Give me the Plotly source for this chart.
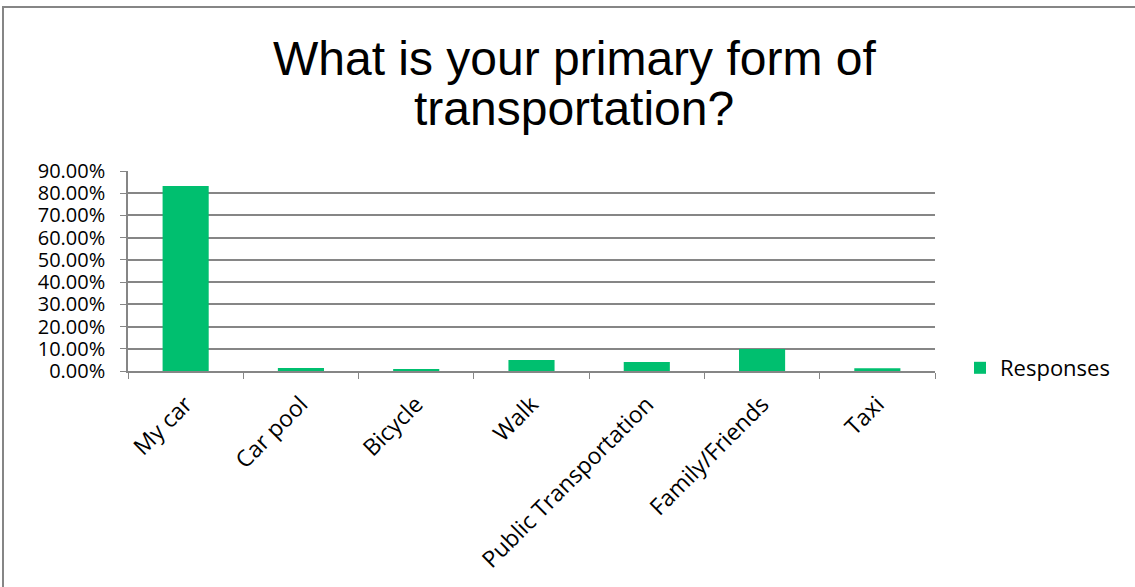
import plotly.graph_objects as go

categories = ["My car", "Car pool", "Bicycle", "Walk", "Public Transportation", "Family/Friends", "Taxi"]
responses = [0.832, 0.013, 0.007, 0.049, 0.040, 0.099, 0.012]
y_ticks = [0.0, 0.1, 0.2, 0.3, 0.4, 0.5, 0.6, 0.7, 0.8, 0.9]
series_name = "Responses"
title_lines = ["What is your primary form of", "transportation?"]

W, H = 1135, 587
ML, MR, MT, MB = 128, 200, 171, 216
pw = W - ML - MR
ph = H - MT - MB

fig = go.Figure()
fig.add_trace(go.Bar(
    x=categories, y=responses, name=series_name,
    marker=dict(color="#00BF6F", line=dict(width=0)),
    showlegend=True,
))

font_family = "'Open Sans', Lato, sans-serif"
title_family = "'Liberation Sans Narrow', 'Liberation Sans', Arial, sans-serif"

title_centers_px = [58, 108]
annotations = []
for line, cy in zip(title_lines, title_centers_px):
    annotations.append(dict(
        text=line, xref="paper", yref="paper",
        x=(574 - ML) / pw, xanchor="center",
        y=1 + (MT - cy) / ph, yanchor="middle",
        showarrow=False, font=dict(size=48, family=title_family, color="black"),
    ))

fig.update_layout(
    width=W, height=H,
    margin=dict(l=ML, r=MR, t=MT, b=MB, pad=0),
    paper_bgcolor="white", plot_bgcolor="white",
    font=dict(family=font_family, color="black", size=20),
    bargap=0.6,
    annotations=annotations,
    legend=dict(x=(960 - ML) / pw, xanchor="left", y=(371 - 368) / ph, yanchor="middle",
                font=dict(size=22), bgcolor="rgba(0,0,0,0)", itemwidth=30),
    xaxis=dict(showgrid=False, showline=True, linecolor="#868686", linewidth=1.5,
               ticks="outside", tickson="boundaries", ticklen=6, tickcolor="#868686",
               tickangle=-45, tickfont=dict(size=23), ticklabelstandoff=9, fixedrange=True),
    yaxis=dict(range=[0, 0.9], tickvals=y_ticks, tickformat=".2%",
               showgrid=True, gridcolor="#868686", gridwidth=1.5,
               showline=True, linecolor="#868686", linewidth=1.5,
               ticks="outside", ticklen=6, tickcolor="#868686", ticklabelstandoff=11,
               tickfont=dict(size=20), zeroline=False, fixedrange=True),
    shapes=[dict(type="rect", xref="paper", yref="paper",
                 x0=(3 - ML) / pw, x1=(W + 20 - ML) / pw,
                 y0=-(MB + 30) / ph, y1=1 + (MT - 7) / ph,
                 line=dict(color="#868686", width=2), layer="below")],
)

fig.write_html("out.html", config={"displayModeBar": False},
               post_script="document.body.style.margin='0px';")
